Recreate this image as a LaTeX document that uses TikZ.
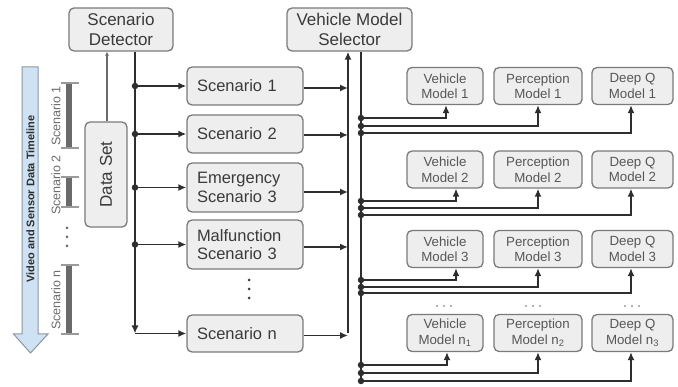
\documentclass[tikz,border=0pt]{standalone}
\usepackage{fontspec}
\setmainfont{Liberation Sans}
\usetikzlibrary{arrows.meta,calc}
\definecolor{boxfill}{HTML}{EEEEEE}
\definecolor{boxline}{HTML}{7A7A7A}
\definecolor{txt}{HTML}{3A3A3A}
\definecolor{bus}{HTML}{2E2E2E}
\definecolor{tlfill}{HTML}{CFE2F3}
\definecolor{tlline}{HTML}{8A96A3}
\definecolor{barcol}{HTML}{6A6A6A}
\definecolor{tickcol}{HTML}{9A9A9A}
\tikzset{
  box/.style={draw=boxline, fill=boxfill, rounded corners=5pt, line width=1.3pt, text=txt, inner sep=0pt, align=center},
  bigbox/.style={box, font=\fontsize{17}{20}\selectfont},
  scbox/.style={box, text width=96pt, inner xsep=10pt, align=left, font=\fontsize{16.5}{18.5}\selectfont},
  smbox/.style={box, minimum height=37pt, font=\fontsize{13.3}{15.5}\selectfont, text=txt!85!white},
  busline/.style={draw=bus, line width=1.8pt},
  arr/.style={busline, -{Latex[length=8pt,width=7pt]}},
  jdot/.style={circle, fill=bus, inner sep=0pt, minimum size=6.5pt},
  tlbar/.style={draw=barcol, line width=6.5pt},
  tltick/.style={draw=tickcol, line width=1.5pt},
  tllabel/.style={rotate=90, text=barcol, font=\fontsize{12.5}{14}\selectfont},
}
\begin{document}
\begin{tikzpicture}[x=1pt,y=-1pt]
\useasboundingbox (0,0) rectangle (678,387);

% top boxes
\node[bigbox, minimum width=104pt, minimum height=43pt] (sd) at (121,29.5) {Scenario\\Detector};
\node[bigbox, minimum width=125pt, minimum height=43pt] (vms) at (349.5,29.5) {Vehicle Model\\Selector};

% data set
\node[box, rotate=90, minimum width=105pt, minimum height=42pt, font=\fontsize{17}{20}\selectfont] (ds) at (106,174.5) {Data Set};

% scenario boxes
\node[scbox, minimum height=38pt] (s1) at (245,86) {Scenario 1};
\node[scbox, minimum height=38pt] (s2) at (245,134) {Scenario 2};
\node[scbox, minimum height=49pt] (s3) at (245,187.5) {Emergency\\Scenario 3};
\node[scbox, minimum height=49pt] (s4) at (245,244.5) {Malfunction\\Scenario 3};
\node[scbox, minimum height=37pt] (sn) at (245,333.5) {Scenario n};
\fill[txt] (249,280) circle (1.5pt) (249,289) circle (1.5pt) (249,298) circle (1.5pt);

% model boxes
\node[smbox, minimum width=76pt] (v1) at (445,86) {Vehicle\\Model 1};
\node[smbox, minimum width=88pt] (p1) at (538,86) {Perception\\Model 1};
\node[smbox, minimum width=81pt] (q1) at (632.5,86) {Deep Q\\Model 1};
\node[smbox, minimum width=76pt] (v2) at (445,169.5) {Vehicle\\Model 2};
\node[smbox, minimum width=88pt] (p2) at (538,169.5) {Perception\\Model 2};
\node[smbox, minimum width=81pt] (q2) at (632.5,169.5) {Deep Q\\Model 2};
\node[smbox, minimum width=76pt] (v3) at (445,249) {Vehicle\\Model 3};
\node[smbox, minimum width=88pt] (p3) at (538,249) {Perception\\Model 3};
\node[smbox, minimum width=81pt] (q3) at (632.5,249) {Deep Q\\Model 3};
\node[smbox, minimum width=76pt] (vn) at (445,333) {Vehicle\\Model n\textsubscript{1}};
\node[smbox, minimum width=88pt] (pn) at (538,333) {Perception\\Model n\textsubscript{2}};
\node[smbox, minimum width=81pt] (qn) at (632.5,333) {Deep Q\\Model n\textsubscript{3}};
\foreach \cx in {444,533,632}{
  \fill[tickcol] (\cx-7,306) circle (1.2pt) (\cx,306) circle (1.2pt) (\cx+7,306) circle (1.2pt);
}

% data set -> scenario detector
\coordinate (dsx) at ($(sd.south)+(-14,0)$);
\draw[draw=barcol, line width=1.3pt, -{Latex[length=4pt,width=4pt]}] (dsx |- ds.east) -- (dsx);

% left bus
\coordinate (lbtop) at ($(sd.south)+(14,0)$);
\coordinate (lbcorner) at (lbtop |- sn.west);
\draw[arr] (lbtop) -- (lbcorner);
\draw[arr] (lbcorner) -- (sn.west);
\foreach \s in {s1,s2,s3,s4}{
  \node[jdot] (j\s) at (lbtop |- \s.west) {};
  \draw[arr] (j\s) -- (\s.west);
}

% right bus into selector
\coordinate (rb) at ($(vms.south)+(-1.5,0)$);
\coordinate (rbbot) at (rb |- sn.east);
\draw[arr] (rbbot) -- (rb);
\draw[arr] ([yshift=-2pt]s1.east) -- ([yshift=-2pt]s1.east -| rb);
\draw[arr] ([yshift=-1pt]s2.east) -- ([yshift=-1pt]s2.east -| rb);
\draw[arr] ([yshift=-4.5pt]s3.east) -- ([yshift=-4.5pt]s3.east -| rb);
\draw[arr] ([yshift=-2.5pt]s4.east) -- ([yshift=-2.5pt]s4.east -| rb);
\draw[arr] ([yshift=-2pt]sn.east) -- ([yshift=-2pt]sn.east -| rb);

% selector output bus
\coordinate (ob) at ($(vms.south)+(11.5,0)$);
\coordinate (obend) at (361,382);
\draw[busline] (ob) -- (obend);

\foreach \r/\ya/\yb/\yc/\vx in {1/118/126/133/1, 2/201/208/215/11, 3/280/287/293/11, n/365/373/381/2}{
  \node[jdot] (ja\r) at (ob |- 0,\ya) {};
  \node[jdot] (jb\r) at (ob |- 0,\yb) {};
  \node[jdot] (jc\r) at (ob |- 0,\yc) {};
  \draw[arr] (ja\r) -| ([xshift=\vx pt]v\r.south);
  \draw[arr] (jb\r) -| (p\r.south);
  \draw[arr] (jc\r) -| ([xshift=-1.5pt]q\r.south);
}

% timeline arrow
\draw[draw=tlline, fill=tlfill, line width=1pt, line join=miter]
  (22,67) -- (38,67) -- (38,334) -- (48,334) -- (30.5,353) -- (13.5,334) -- (22,334) -- cycle;
\node[rotate=90, text=bus, font=\bfseries\fontsize{11}{13}\selectfont] (tltitle) at (30.5,199) {Video and Sensor Data Timeline};

% scenario bars
\draw[tlbar] (69,83) -- (69,148);
\draw[tltick] (61,83) -- (79,83) (61,148) -- (79,148);
\draw[tlbar] (69,177) -- (69,207);
\draw[tltick] (61,177) -- (79,177) (61,207) -- (79,207);
\draw[tlbar] (69,265) -- (69,334);
\draw[tltick] (61,265) -- (79,265) (61,334) -- (79,334);
\node[tllabel] (l1) at (56,116) {Scenario 1};
\node[tllabel] (l2) at (56,185) {Scenario 2};
\node[tllabel] (ln) at (56,300) {Scenario n};
\fill[barcol] (67,228) circle (1.5pt) (67,237) circle (1.5pt) (67,246) circle (1.5pt);
\end{tikzpicture}
\end{document}
